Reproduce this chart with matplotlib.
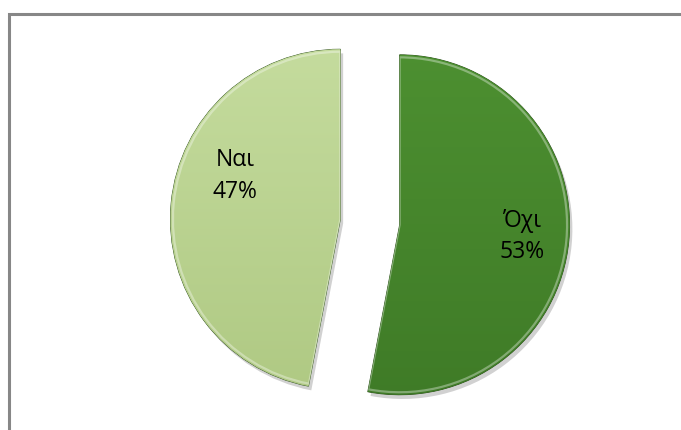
import matplotlib.pyplot as plt
import matplotlib.patheffects as pe
from matplotlib.patches import Wedge
from matplotlib.colors import LinearSegmentedColormap
import numpy as np

# Survey answers
labels = ['Όχι', 'Ναι']
shares = [53, 47]
colors = ['#46862a', '#bcd58f']
tops = ['#4d9031', '#c5dc9e']
bottoms = ['#3f7b27', '#afc983']

plt.rcParams['font.family'] = ['Open Sans', 'DejaVu Sans']

fig = plt.figure(figsize=(6.81, 4.30), dpi=100)
fig.patch.set_facecolor('white')

# frame around the chart area (runs off the right and bottom edges)
frame = plt.Rectangle((9 / 681, -0.05), 1.0, (430 - 14) / 430 + 0.05,
                      transform=fig.transFigure, fill=False,
                      edgecolor='#878787', linewidth=2.2)
fig.add_artist(frame)

ax = fig.add_axes([0, 0, 1, 1])

wedges, _ = ax.pie(shares, startangle=90, counterclock=False,
                   colors=colors, explode=[0.175, 0.175], radius=1.0,
                   wedgeprops=dict(edgecolor='#2f4f1f', linewidth=0.6))

for w, c1, c2 in zip(wedges, tops, bottoms):
    w.set_path_effects([pe.SimplePatchShadow(offset=(2, -3), shadow_rgbFace='#000000', alpha=0.18),
                        pe.Normal()])
    # vertical gradient fill clipped to the wedge
    cmap = LinearSegmentedColormap.from_list('g', [c2, c1])
    grad = np.linspace(0, 1, 256).reshape(-1, 1)
    x0, y0 = w.center
    im = ax.imshow(grad, cmap=cmap, origin='lower', aspect='auto',
                   extent=(x0 - 1.05, x0 + 1.05, y0 - 1.05, y0 + 1.05),
                   zorder=w.get_zorder() + 0.1)
    im.set_clip_path(w)

# bevel highlight along the wedge borders
for w in wedges:
    w2 = Wedge(w.center, 0.985, w.theta1, w.theta2, fill=False,
               edgecolor='white', linewidth=1.6, alpha=0.35,
               zorder=w.get_zorder() + 0.2)
    ax.add_patch(w2)
    w2.set_clip_path(w)

# data labels
offsets = [(0.72, -0.07), (-0.62, 0.255)]
for w, lab, val, (dx, dy) in zip(wedges, labels, shares, offsets):
    x0, y0 = w.center
    ax.text(x0 + dx, y0 + dy, f'{lab}\n{val}%', ha='center', va='center',
            fontsize=16.5, color='black', linespacing=1.42, zorder=10)

ax.set_xlim(-370 / 170, (681 - 370) / 170)
ax.set_ylim(-208 / 170, 222 / 170)
ax.set_aspect('equal')
ax.axis('off')

plt.savefig('out.png', dpi=100)
